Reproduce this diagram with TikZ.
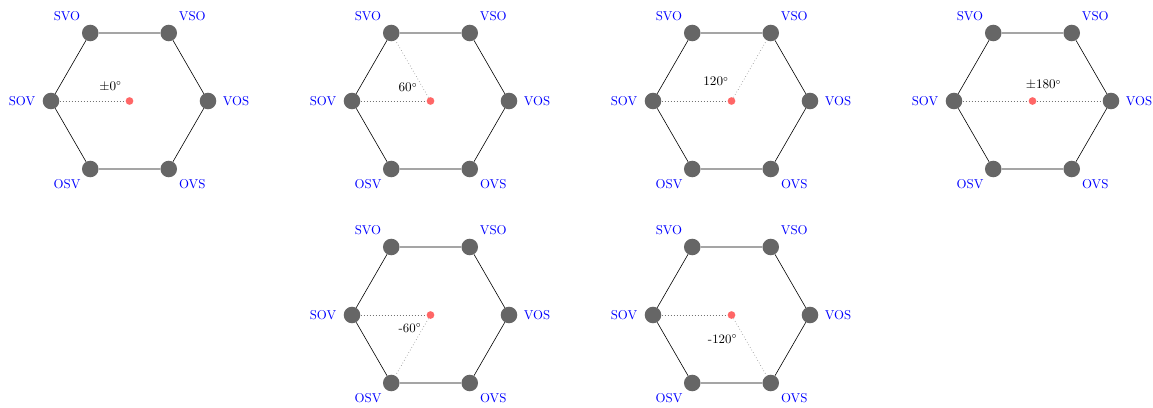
\documentclass[tikz,border=0pt]{standalone}
\tikzset{
  vert/.style={circle, fill=black!60, minimum size=13.8pt, inner sep=0pt},
  hub/.style={circle, fill=red!60, minimum size=6.4pt, inner sep=0pt},
  wlabel/.style={text=blue, inner sep=0pt, font=\fontsize{10.7}{12.8}\selectfont},
  alabel/.style={inner sep=0pt, font=\fontsize{10.7}{12.8}\selectfont},
  side/.style={draw=black, line width=0.5pt},
  ray/.style={draw=black!55, dotted, line width=0.5pt}
}
% one word-order hexagon: #1 name prefix, (#2,#3) centre
\newcommand\wordhex[3]{%
  \begin{scope}[shift={(#2,#3)}]
    \node[hub]  (#1c)   at (0,0) {};
    \node[vert] (#1svo) at (-39.25,-68) {};
    \node[vert] (#1vso) at (39.25,-68) {};
    \node[vert] (#1vos) at (78.5,0) {};
    \node[vert] (#1ovs) at (39.25,68) {};
    \node[vert] (#1osv) at (-39.25,68) {};
    \node[vert] (#1sov) at (-78.5,0) {};
    \draw[side] (#1svo) -- (#1vso) -- (#1vos) -- (#1ovs) -- (#1osv) -- (#1sov) -- (#1svo);
    \node[wlabel] (#1lsvo) at (-62.5,-85) {SVO};
    \node[wlabel] (#1lvso) at (62.75,-85) {VSO};
    \node[wlabel] (#1lvos) at (106.5,0) {VOS};
    \node[wlabel] (#1lovs) at (62.75,83.5) {OVS};
    \node[wlabel] (#1losv) at (-62.5,83.5) {OSV};
    \node[wlabel] (#1lsov) at (-107.5,0) {SOV};
  \end{scope}}
\begin{document}
\begin{tikzpicture}[x=0.8333pt, y=-0.8333pt]
  \useasboundingbox (0,0) rectangle (1153,407);

  % top row
  \wordhex{a}{129.5}{101}
  \draw[ray] (asov) -- (ac);
  \node[alabel] (aang) at (110.5,86.5) {$\pm0^\circ$};

  \wordhex{b}{430.5}{101}
  \draw[ray] (bsov) -- (bc);
  \draw[ray] (bc) -- (bsvo);
  \node[alabel] (bang) at (408,87.5) {$60^\circ$};

  \wordhex{c}{731.5}{101}
  \draw[ray] (csov) -- (cc);
  \draw[ray] (cc) -- (cvso);
  \node[alabel] (cang) at (716,81.5) {$120^\circ$};

  \wordhex{d}{1032.5}{101}
  \draw[ray] (dsov) -- (dc);
  \draw[ray] (dc) -- (dvos);
  \node[alabel] (dang) at (1043.5,85) {$\pm180^\circ$};

  % bottom row
  \wordhex{e}{430.5}{315}
  \draw[ray] (esov) -- (ec);
  \draw[ray] (ec) -- (eosv);
  \node[alabel] (eang) at (410,328.5) {-60$^\circ$};

  \wordhex{f}{731.5}{315}
  \draw[ray] (fsov) -- (fc);
  \draw[ray] (fc) -- (fovs);
  \node[alabel] (fang) at (722.5,339) {-120$^\circ$};
\end{tikzpicture}
\end{document}
